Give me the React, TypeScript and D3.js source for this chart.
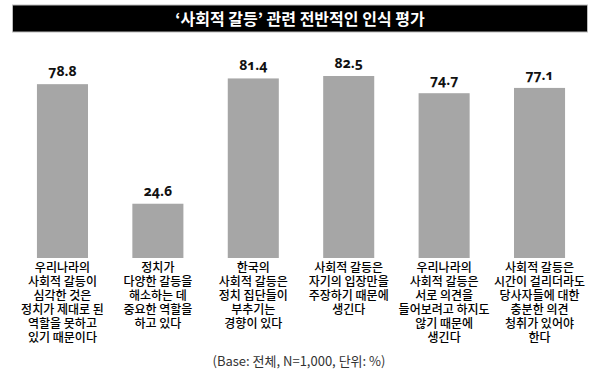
import React from "react";
import * as d3 from "d3";

const title = "‘사회적 갈등’ 관련 전반적인 인식 평가";
const footnote = "(Base: 전체, N=1,000, 단위: %)";
const categories = ["c1", "c2", "c3", "c4", "c5", "c6"];
const values = [78.8, 24.6, 81.4, 82.5, 74.7, 77.1];
const valueLabels = ["78.8", "24.6", "81.4", "82.5", "74.7", "77.1"];
const categoryLines = [
  ["우리나라의", "사회적 갈등이", "심각한 것은", "정치가 제대로 된", "역할을 못하고", "있기 때문이다"],
  ["정치가", "다양한 갈등을", "해소하는 데", "중요한 역할을", "하고 있다"],
  ["한국의", "사회적 갈등은", "정치 집단들이", "부추기는", "경향이 있다"],
  ["사회적 갈등은", "자기의 입장만을", "주장하기 때문에", "생긴다"],
  ["우리나라의", "사회적 갈등은", "서로 의견을", "들어보려고 하지도", "않기 때문에", "생긴다"],
  ["사회적 갈등은", "시간이 걸리더라도", "당사자들에 대한", "충분한 의견", "청취가 있어야", "한다"],
];

export default function App() {
  const W = 600, H = 384;
  const x = d3.scaleBand().domain(categories).range([15, 587]).paddingInner(0.465).paddingOuter(0.23);
  const y = d3.scaleLinear().domain([0, 100]).range([258, 37.4]);
  const kr = "'Noto Sans CJK KR', 'Noto Sans', sans-serif";
  return (
    <svg width={W} height={H} style={{ position: "absolute", left: 0, top: 0, background: "#fff" }}>
      <rect x={12.5} y={5} width={575} height={27} fill="#000" stroke="#bbb" strokeWidth={1} />
      <text x={300} y={24.5} textAnchor="middle" fill="#fff" fontFamily={kr} fontSize={16} fontWeight={700}>{title}</text>
      {categories.map((c, i) => {
        const bx = x(c)!;
        const bw = x.bandwidth();
        const cx = bx + bw / 2;
        return (
          <g key={c}>
            <rect x={bx} y={y(values[i])} width={bw} height={y(0) - y(values[i])} fill="#a6a6a6" />
            <text x={cx} y={y(values[i]) - 8} textAnchor="middle" fontFamily="'Open Sans', sans-serif" fontWeight={700} fontSize={14} fill="#111" style={{ fontVariantNumeric: "oldstyle-nums" }}>{valueLabels[i]}</text>
            <text x={cx} y={272} textAnchor="middle" fontFamily={kr} fontSize={12} fontWeight={500} fill="#000">
              {categoryLines[i].map((l, j) => (
                <tspan key={j} x={cx} dy={j === 0 ? 0 : 14}>{l}</tspan>
              ))}
            </text>
          </g>
        );
      })}
      <text x={299} y={366} textAnchor="middle" fontFamily={kr} fontSize={13} fill="#333">{footnote}</text>
    </svg>
  );
}
